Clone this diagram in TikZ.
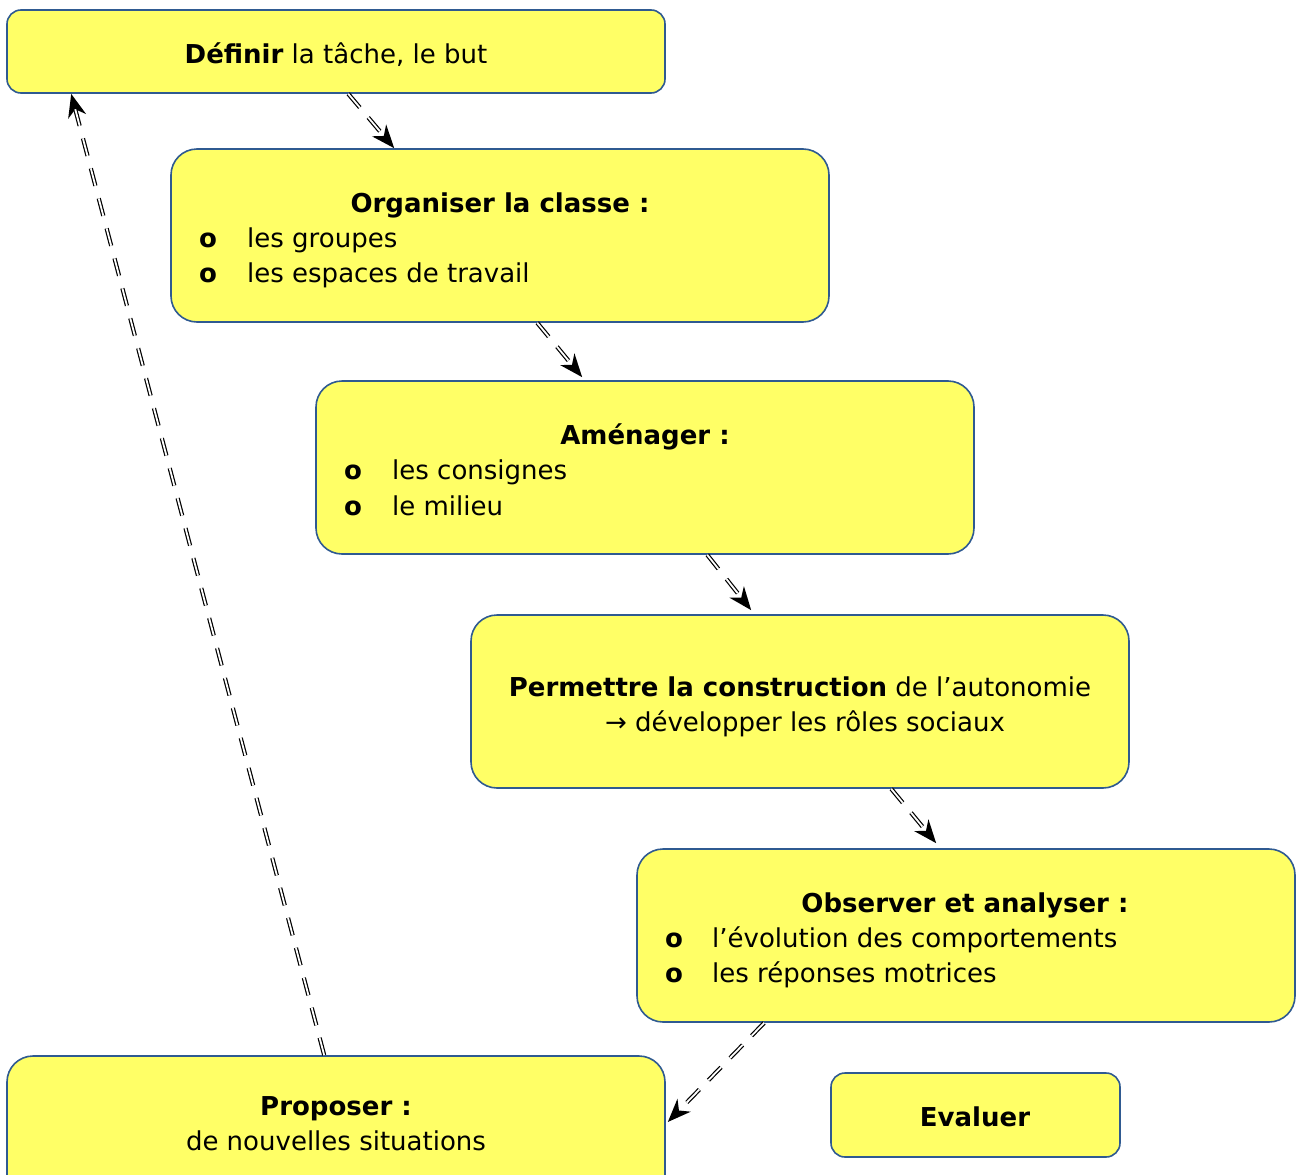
\documentclass[tikz,border=0pt]{standalone}
\usepackage{fontspec}
\setmainfont{DejaVu Sans}
\usetikzlibrary{arrows.meta,calc}
\definecolor{boxfill}{HTML}{FFFF66}
\definecolor{boxline}{HTML}{2F5A91}
\tikzset{
  box/.style={draw=boxline, fill=boxfill, line width=1.6pt, rounded corners=#1, inner sep=0pt},
  box/.default=26pt,
  txt/.style={anchor=base, inner sep=0pt, font=\fontsize{26}{31}\selectfont},
  ltxt/.style={txt, anchor=base west},
  conn/.style={draw=black, line width=4.2pt, dash pattern=on 18pt off 13pt,
    -{Stealth[length=23pt,width=18pt,inset=7pt]},
    postaction={draw=white, line width=1.8pt, dash pattern=on 18pt off 13pt, arrows=-, shorten >=16pt}},
}
\begin{document}
\begin{tikzpicture}[x=1pt,y=-1pt]
\useasboundingbox (0,0) rectangle (1296,1175);
% boxes
\node (b1) [box=14pt, minimum width=658pt, minimum height=83pt] at (336,51.5) {};
\node (b2) [box, minimum width=658pt, minimum height=173pt] at (500,235.5) {};
\node (b3) [box, minimum width=658pt, minimum height=173pt] at (645,467.5) {};
\node (b4) [box, minimum width=658pt, minimum height=173pt] at (800,701.5) {};
\node (b5) [box, minimum width=658pt, minimum height=173pt] at (966,935.5) {};
\node (b6) [box, minimum width=658pt, minimum height=150pt] at (336,1131) {};
\node (b7) [box=14pt, minimum width=289pt, minimum height=84pt] at (975.5,1115) {};
% texts
\node[txt] (t1) at (336,63) {\textbf{Définir} la tâche, le but};
\node[txt] (t2) at (500,212) {\textbf{Organiser la classe :}};
\node[ltxt] (t2a) at (199,247) {\textbf{o}};
\node[ltxt] (t2b) at (247,247) {les groupes};
\node[ltxt] (t2c) at (199,282) {\textbf{o}};
\node[ltxt] (t2d) at (247,282) {les espaces de travail};
\node[txt] (t3) at (645,444) {\textbf{Aménager :}};
\node[ltxt] (t3a) at (344,479) {\textbf{o}};
\node[ltxt] (t3b) at (392,479) {les consignes};
\node[ltxt] (t3c) at (344,515) {\textbf{o}};
\node[ltxt] (t3d) at (392,515) {le milieu};
\node[txt] (t4) at (800,696) {\textbf{Permettre la construction} de l’autonomie};
\node[txt] (t4b) at (805,731) {→ développer les rôles sociaux};
\node[txt] (t5) at (965,912) {\textbf{Observer et analyser :}};
\node[ltxt] (t5a) at (665,947) {\textbf{o}};
\node[ltxt] (t5b) at (712,947) {l’évolution des comportements};
\node[ltxt] (t5c) at (665,982) {\textbf{o}};
\node[ltxt] (t5d) at (712,982) {les réponses motrices};
\node[txt] (t6) at (336,1115) {\textbf{Proposer :}};
\node[txt] (t6b) at (336,1150) {de nouvelles situations};
\node[txt] (t7) at (975,1126) {\textbf{Evaluer}};
% connectors
\draw[conn] ($(b1.south west)+(342,0)$) -- ($(b2.north west)+(224,0)$);
\draw[conn] ($(b2.south west)+(367,0)$) -- ($(b3.north west)+(267,-3)$);
\draw[conn] ($(b3.south west)+(392,0)$) -- ($(b4.north west)+(281,-4)$);
\draw[conn] ($(b4.south west)+(421,0)$) -- ($(b5.north west)+(300,-5)$);
\draw[conn] ($(b5.south west)+(128,0)$) -- ($(b6.east)+(2,-9)$);
\draw[conn] ($(b6.north west)+(318,0)$) -- ($(b1.south west)+(65,0)$);
\end{tikzpicture}
\end{document}
